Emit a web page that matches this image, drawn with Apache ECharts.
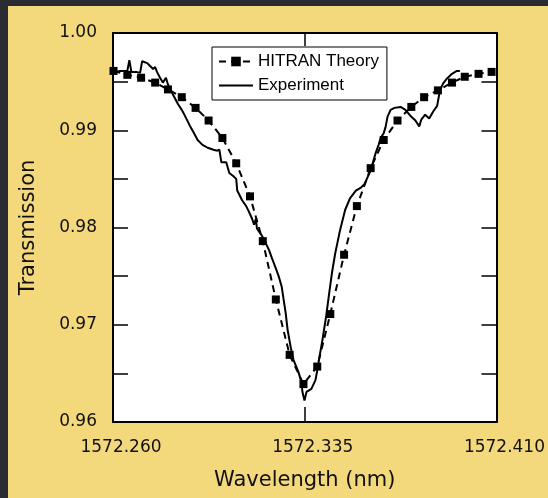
<!DOCTYPE html>
<html>
<head>
<meta charset="utf-8">
<title>Transmission</title>
<script src="https://cdn.jsdelivr.net/npm/echarts@6/dist/echarts.min.js"></script>
<style>
  html, body { margin: 0; padding: 0; background: #2b2b33; }
  #chart { width: 548px; height: 498px; }
</style>
</head>
<body>
<div id="chart"></div>
<script>
// HITRAN theory points: wavelength (nm) / transmission
const hitranWl = [1572.2602, 1572.2656, 1572.2710, 1572.2765, 1572.2815, 1572.2869, 1572.2923, 1572.2974, 1572.3028,
  1572.3082, 1572.3136, 1572.3186, 1572.3237, 1572.3291, 1572.3345, 1572.3399, 1572.3450, 1572.3504, 1572.3554,
  1572.3608, 1572.3659, 1572.3713, 1572.3767, 1572.3817, 1572.3871, 1572.3926, 1572.3976, 1572.4030, 1572.4081];
const hitranT = [0.9961, 0.9957, 0.9954, 0.9949, 0.9942, 0.9934, 0.9923, 0.9910, 0.9892,
  0.9866, 0.9832, 0.9786, 0.9726, 0.9669, 0.9639, 0.9657, 0.9711, 0.9772, 0.9822,
  0.9861, 0.9890, 0.9910, 0.9924, 0.9934, 0.9941, 0.9949, 0.9955, 0.9958, 0.9960];

// measured trace
const expWl = [
  1572.2600, 1572.2629, 1572.2656, 1572.2664, 1572.2672, 1572.2691, 1572.2706, 1572.2714, 1572.2734, 1572.2745,
  1572.2757, 1572.2765, 1572.2772, 1572.2784, 1572.2795, 1572.2807, 1572.2815, 1572.2834, 1572.2854, 1572.2869,
  1572.2885, 1572.2900, 1572.2915, 1572.2931, 1572.2950, 1572.2970, 1572.2993, 1572.3008, 1572.3016, 1572.3024,
  1572.3043, 1572.3055, 1572.3070, 1572.3082, 1572.3086, 1572.3105, 1572.3121, 1572.3132, 1572.3144, 1572.3152,
  1572.3159, 1572.3163, 1572.3179, 1572.3194, 1572.3210, 1572.3221, 1572.3237, 1572.3248, 1572.3260, 1572.3268,
  1572.3275, 1572.3283, 1572.3295, 1572.3306, 1572.3326, 1572.3337, 1572.3341, 1572.3349, 1572.3357, 1572.3376,
  1572.3392, 1572.3399, 1572.3407, 1572.3419, 1572.3434, 1572.3446, 1572.3457, 1572.3469, 1572.3488, 1572.3508,
  1572.3527, 1572.3550, 1572.3570, 1572.3585, 1572.3593, 1572.3605, 1572.3616, 1572.3628, 1572.3639, 1572.3647,
  1572.3659, 1572.3666, 1572.3674, 1572.3686, 1572.3701, 1572.3725, 1572.3744, 1572.3763, 1572.3783, 1572.3798,
  1572.3806, 1572.3821, 1572.3837, 1572.3852, 1572.3868, 1572.3875, 1572.3879, 1572.3891, 1572.3906, 1572.3926,
  1572.3945, 1572.3957
];
const expT = [
  0.9960, 0.9961, 0.9961, 0.9972, 0.9960, 0.9960, 0.9959, 0.9971, 0.9969, 0.9966,
  0.9963, 0.9965, 0.9960, 0.9954, 0.9949, 0.9954, 0.9947, 0.9937, 0.9927, 0.9921,
  0.9913, 0.9905, 0.9898, 0.9890, 0.9885, 0.9882, 0.9880, 0.9879, 0.9880, 0.9867,
  0.9867, 0.9856, 0.9853, 0.9850, 0.9838, 0.9828, 0.9822, 0.9816, 0.9809, 0.9803,
  0.9809, 0.9799, 0.9793, 0.9786, 0.9777, 0.9769, 0.9758, 0.9750, 0.9739, 0.9725,
  0.9713, 0.9695, 0.9677, 0.9664, 0.9651, 0.9641, 0.9631, 0.9622, 0.9631, 0.9634,
  0.9643, 0.9653, 0.9666, 0.9684, 0.9709, 0.9733, 0.9754, 0.9773, 0.9797, 0.9818,
  0.9830, 0.9838, 0.9841, 0.9845, 0.9850, 0.9857, 0.9866, 0.9877, 0.9885, 0.9892,
  0.9897, 0.9903, 0.9914, 0.9921, 0.9923, 0.9924, 0.9921, 0.9915, 0.9910, 0.9904,
  0.9911, 0.9916, 0.9912, 0.9919, 0.9925, 0.9925, 0.9941, 0.9948, 0.9953, 0.9958,
  0.9961, 0.9961
];

const xTickLabels = ['1572.260', '1572.335', '1572.410'];
const yTickLabels = ['0.96', '0.97', '0.98', '0.99', '1.00'];
const legendNames = ['HITRAN Theory', 'Experiment'];

const FONT = 'DejaVu Sans';
const INK = '#111';

function toPairs(xs, ys) {
  return xs.map((x, i) => [x, ys[i]]);
}

/**
 * shared look of the four frame axes
 */
function frameAxis(extra) {
  return Object.assign({
    type: 'value',
    axisLine: { show: true, onZero: false, lineStyle: { color: '#000', width: 2 } },
    axisTick: { show: true, inside: true, length: 15, lineStyle: { color: '#000', width: 1.5 } },
    splitLine: { show: false },
    axisLabel: { show: false }
  }, extra);
}

const xRange = { min: 1572.26, max: 1572.41, interval: 0.075 };
const yRange = { min: 0.96, max: 1.0, interval: 0.005 };

const option = {
  animation: false,
  graphic: [{
    type: 'rect',
    z: -10,
    silent: true,
    shape: { x: 8, y: 6, width: 540, height: 492 },
    style: { fill: '#f3d87c' }
  }],
  grid: {
    left: 113, right: 48, top: 33, bottom: 76,
    show: true, backgroundColor: '#fff', borderWidth: 0
  },
  legend: {
    // the measured trace has no marker, so its legend symbol is hidden
    data: [
      { name: legendNames[0] },
      { name: legendNames[1], itemStyle: { opacity: 0 } }
    ],
    orient: 'vertical',
    left: 212,
    top: 47,
    backgroundColor: '#fff',
    borderColor: '#000',
    borderWidth: 1,
    borderRadius: 0,
    padding: [6, 8, 6, 6],
    itemGap: 7,
    itemWidth: 34,
    itemHeight: 12,
    textStyle: { fontFamily: 'Liberation Sans', fontSize: 17, color: '#000' }
  },
  xAxis: [
    frameAxis(Object.assign({
      position: 'bottom',
      name: 'Wavelength (nm)',
      nameLocation: 'middle',
      nameGap: 48,
      nameTextStyle: { fontFamily: FONT, fontSize: 21, color: INK },
      axisLabel: {
        show: true,
        margin: 17,
        padding: [0, 0, 0, 16],
        fontFamily: FONT,
        fontSize: 17,
        color: INK,
        formatter: v => xTickLabels[Math.round((v - xRange.min) / xRange.interval)]
      }
    }, xRange)),
    frameAxis(Object.assign({ position: 'top', axisTick: { show: true, inside: true, length: 13, lineStyle: { color: '#000', width: 1.5 } } }, xRange))
  ],
  yAxis: [
    frameAxis(Object.assign({
      position: 'left',
      name: 'Transmission',
      nameLocation: 'middle',
      nameGap: 74,
      nameTextStyle: { fontFamily: FONT, fontSize: 21, color: INK },
      axisLabel: {
        show: true,
        margin: 16,
        fontFamily: FONT,
        fontSize: 17,
        color: INK,
        formatter: v => {
          const k = Math.round(v * 200);
          return k % 2 === 0 ? yTickLabels[k / 2 - 96] : '';
        }
      }
    }, yRange)),
    frameAxis(Object.assign({ position: 'right' }, yRange))
  ],
  series: [
    {
      name: legendNames[0],
      type: 'line',
      data: toPairs(hitranWl, hitranT),
      symbol: 'rect',
      symbolSize: 8,
      showAllSymbol: true,
      itemStyle: { color: '#000' },
      lineStyle: { color: '#000', width: 2, type: [7, 5] },
      z: 3
    },
    {
      name: legendNames[1],
      type: 'line',
      data: toPairs(expWl, expT),
      symbol: 'circle',
      showSymbol: false,
      itemStyle: { color: '#000' },
      lineStyle: { color: '#000', width: 2 },
      z: 2
    }
  ]
};

const chart = echarts.init(document.getElementById('chart'));
chart.setOption(option);
window.addEventListener('resize', () => chart.resize());
</script>
</body>
</html>
